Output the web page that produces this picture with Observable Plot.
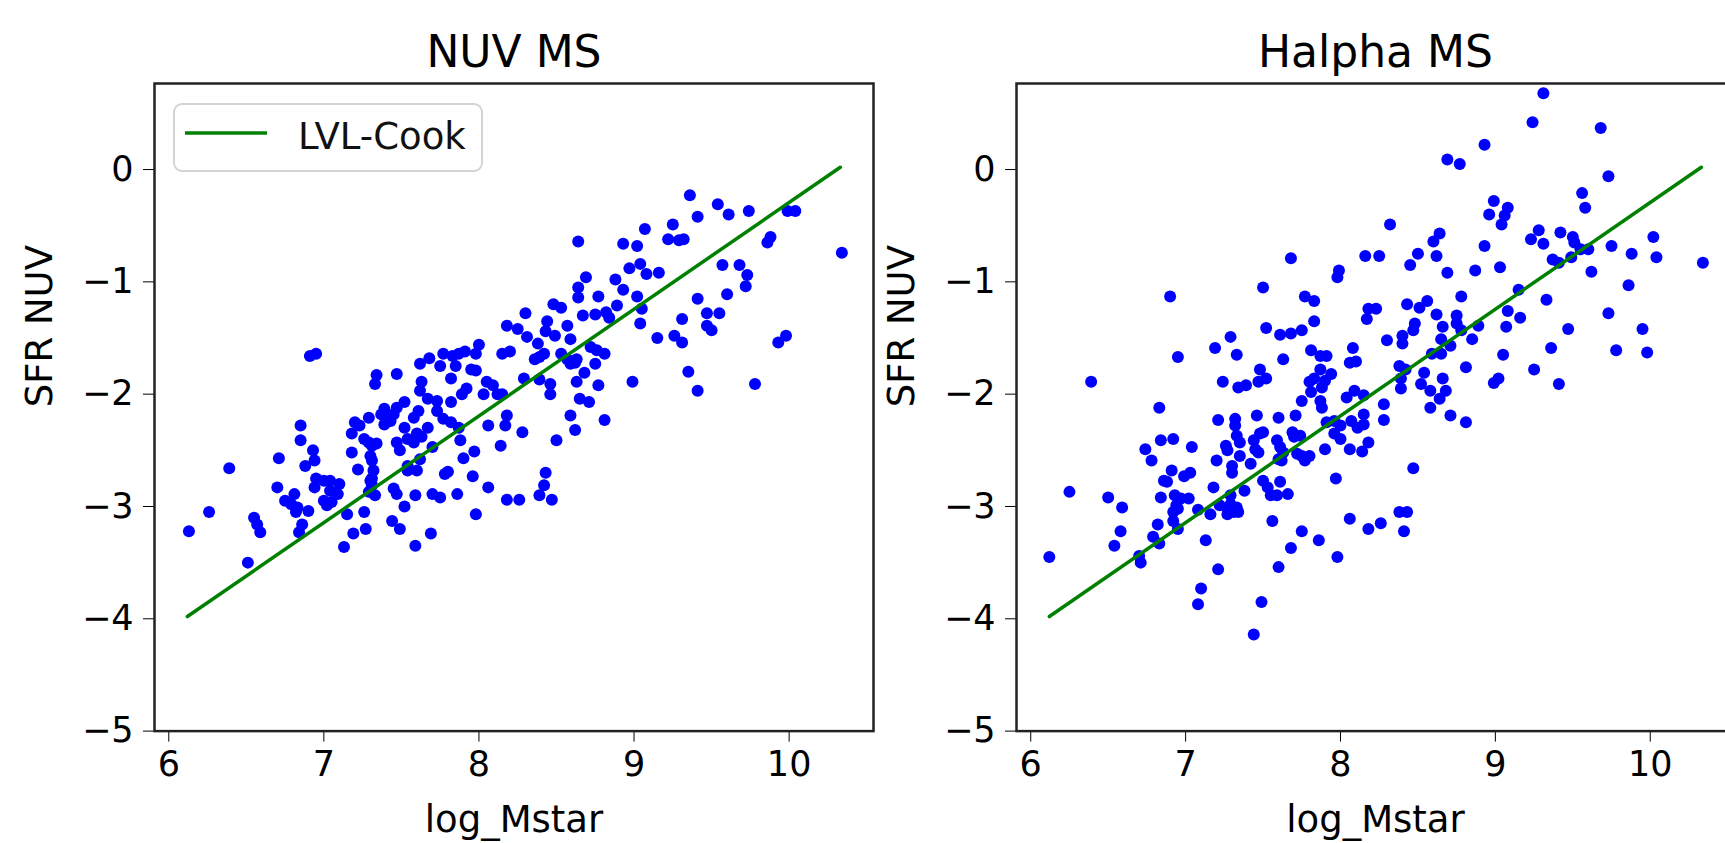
<!DOCTYPE html>
<html>
<head>
<meta charset="utf-8">
<script src="https://cdn.jsdelivr.net/npm/d3@7"></script>
<script src="https://cdn.jsdelivr.net/npm/@observablehq/plot@0.6"></script>
<style>
html, body { margin: 0; padding: 0; background: #fff; }
body { width: 1725px; height: 843px; overflow: hidden; position: relative; font-family: "DejaVu Sans", sans-serif; }
.panel { position: absolute; top: 0; height: 843px; }
.panel svg { max-width: none !important; }
.legend { position: absolute; left: 173px; top: 103px; width: 310px; height: 69px; box-sizing: border-box;
  border: 2px solid #d4d4d4; border-radius: 9px; background: rgba(255,255,255,0.85); z-index: 5; }
.legend svg { position: absolute; left: 0; top: 0; }
.legend span { position: absolute; left: 123px; top: 31px; transform: translateY(-50%); font-size: 37px; color: #111; line-height: 1; white-space: nowrap; }
</style>
</head>
<body>
<div id="left" class="panel" style="left:0px;width:945px"></div>
<div id="right" class="panel" style="left:862px;width:1000px"></div>
<div class="legend" id="legend"></div>
<script>
// ---- axes / labels ----
const panelTitles = ["NUV MS", "Halpha MS"];
const xLabel = "log_Mstar";
const yLabel = "SFR NUV";
const legendLabel = "LVL-Cook";
const xTicks = [6, 7, 8, 9, 10];
const yTicks = [-5, -4, -3, -2, -1, 0];
const xDomain = [5.908, 10.544];
const yDomain = [-5, 0.766];

// ---- LVL-Cook relation (endpoints) ----
const fitX = [6.12, 10.33];
const fitY = [-3.98, 0.02];

// ---- NUV MS panel ----
const nuvX = [
6.91,6.95,8.30,8.18,8.25,8.31,8.00,8.15,8.20,7.77,7.83,7.87,7.91,7.98,7.62,7.68,7.75,7.85,7.98,7.95,
7.82,7.34,7.33,7.47,7.63,7.62,8.05,8.09,8.12,8.15,7.92,7.89,8.29,8.03,7.52,7.47,7.39,7.67,7.73,7.82,
7.29,7.20,7.23,7.37,7.41,7.45,7.39,7.43,7.52,7.58,7.61,7.73,7.77,7.82,7.87,8.18,8.06,8.17,8.28,8.14,
7.18,7.26,7.29,7.31,7.34,7.47,7.49,7.54,7.58,7.60,7.63,7.67,7.88,7.70,7.18,7.30,7.31,7.22,7.32,7.31,
7.31,7.54,7.54,7.60,7.62,7.78,7.80,7.90,7.97,7.96,8.06,8.18,8.26,7.98,7.69,7.59,7.70,7.75,7.86,7.59,
7.52,7.45,7.47,7.44,7.49,7.26,7.19,7.27,7.15,7.13,7.33,7.29,7.30,6.95,7.00,7.04,7.10,6.94,7.04,7.09,
7.00,7.05,7.02,6.88,6.94,6.93,6.85,6.85,6.71,6.70,6.75,6.81,6.79,6.83,6.82,6.90,6.86,6.84,6.39,6.26,
6.13,6.55,6.57,6.59,6.51,
8.59,8.62,8.81,8.50,8.43,8.42,8.39,8.47,
9.36,9.41,9.54,9.61,9.74,9.99,10.04,10.34,9.86,9.88,9.57,9.68,9.73,9.72,9.60,9.41,9.93,9.98,9.78,9.41,
9.35,9.47,9.55,9.47,9.50,9.31,9.15,9.26,9.31,9.25,9.22,9.29,9.32,9.07,8.93,9.02,8.64,8.97,9.04,9.08,
9.16,8.69,8.88,8.64,8.64,8.93,8.77,9.02,9.05,8.89,8.48,8.53,8.67,8.75,8.82,8.84,9.04,8.44,8.43,8.49,
8.57,8.59,8.38,8.39,8.42,8.36,8.53,8.57,8.59,8.62,8.63,8.72,8.76,8.81,8.68,8.75,8.39,8.46,8.46,8.63,
8.77,8.99,8.65,8.71
];
const nuvY = [
-1.66,-1.64,-1.28,-1.39,-1.42,-1.49,-1.56,-1.64,-1.62,-1.64,-1.66,-1.64,-1.62,-1.64,-1.73,-1.68,-1.75,-1.75,-1.79,-1.78,
-1.86,-1.83,-1.91,-1.82,-1.89,-1.97,-1.89,-1.92,-2.00,-2.00,-1.95,-2.00,-1.86,-2.00,-2.07,-2.12,-2.13,-2.04,-2.06,-2.07,
-2.21,-2.25,-2.28,-2.18,-2.18,-2.18,-2.27,-2.24,-2.30,-2.21,-2.15,-2.15,-2.22,-2.25,-2.30,-2.19,-2.28,-2.28,-2.34,-2.46,
-2.35,-2.40,-2.43,-2.46,-2.44,-2.43,-2.50,-2.40,-2.43,-2.35,-2.38,-2.30,-2.41,-2.47,-2.52,-2.55,-2.59,-2.67,-2.68,-2.75,
-2.81,-2.64,-2.68,-2.68,-2.58,-2.71,-2.69,-2.57,-2.51,-2.73,-2.83,-2.94,-2.94,-3.07,-3.24,-3.35,-2.89,-2.92,-2.89,-2.90,
-3.00,-2.84,-2.89,-3.13,-3.20,-3.05,-3.24,-3.20,-3.07,-3.36,-2.90,-2.87,-2.77,-2.75,-2.77,-2.77,-2.80,-2.83,-2.86,-2.89,
-2.95,-2.96,-2.99,-2.64,-2.59,-2.50,-2.28,-2.41,-2.57,-2.83,-2.95,-2.89,-2.98,-3.01,-3.05,-3.04,-3.16,-3.23,-2.66,-3.05,
-3.22,-3.10,-3.16,-3.23,-3.50,
-2.19,-2.32,-2.23,-2.41,-2.70,-2.81,-2.90,-2.94,
-0.23,-0.42,-0.31,-0.40,-0.37,-0.37,-0.37,-0.74,-0.65,-0.60,-0.85,-0.85,-0.94,-1.04,-1.11,-1.15,-1.54,-1.48,-1.91,-1.97,
-1.80,-1.28,-1.28,-1.39,-1.43,-1.33,-1.50,-1.48,-1.54,-0.49,-0.62,-0.63,-0.62,-0.53,-0.66,-0.68,-0.64,-0.88,-0.84,-0.93,
-0.92,-0.96,-0.98,-1.05,-1.14,-1.07,-1.13,-1.13,-1.24,-1.21,-1.20,-1.23,-1.30,-1.29,-1.27,-1.32,-1.37,-1.35,-1.44,-1.48,
-1.39,-1.51,-1.55,-1.67,-1.64,-1.69,-1.64,-1.69,-1.73,-1.72,-1.69,-1.58,-1.61,-1.64,-1.81,-1.73,-1.87,-1.91,-2.00,-1.89,
-1.92,-1.89,-2.04,-2.07
];

// ---- Halpha MS panel ----
const haX = [
7.68,8.16,7.99,7.98,6.90,7.50,7.77,7.83,8.18,8.17,7.83,7.52,7.61,7.68,7.75,7.29,7.19,6.95,7.33,7.63,
7.81,7.87,7.91,8.08,8.06,8.10,7.48,7.52,7.47,7.87,7.94,7.83,7.90,7.80,7.88,7.24,7.34,7.39,6.39,7.81,
7.75,7.87,7.88,8.09,8.04,8.15,6.83,
7.21,7.32,7.32,7.46,7.60,7.71,7.69,7.74,7.70,7.50,7.48,7.33,7.35,7.26,7.27,7.44,7.45,7.47,7.35,7.20,
7.30,7.30,7.42,7.59,7.61,7.63,7.60,7.62,7.72,7.75,7.80,7.77,7.90,7.91,7.96,8.00,7.96,8.00,8.07,8.11,
8.15,8.15,8.06,8.14,8.18,7.97,8.06,8.18,7.98,7.86,7.75,7.68,7.56,7.60,7.49,7.44,7.21,7.10,7.08,7.13,
7.16,7.08,7.18,7.38,7.22,7.27,7.29,7.33,7.31,7.27,7.34,7.29,7.50,7.53,7.55,7.59,7.61,7.66,7.03,6.99,
6.91,6.86,6.88,6.93,6.97,7.02,6.94,6.92,6.95,6.84,6.92,6.95,6.82,6.79,6.83,7.04,6.74,6.78,6.84,6.92,
6.59,6.50,6.58,6.54,6.70,6.71,6.25,6.12,
9.31,9.24,9.68,8.93,8.69,8.77,9.73,9.56,9.58,8.99,9.08,8.96,9.06,9.04,8.32,9.28,9.23,9.31,9.42,9.50,
9.51,10.02,10.04,9.75,9.88,10.34,9.55,9.60,9.49,9.37,9.41,9.62,9.86,9.33,9.15,8.64,8.60,8.50,8.45,8.62,
8.69,8.93,8.87,9.03,8.25,8.78,8.43,8.51,8.56,8.23,8.62,8.75,8.75,8.78,8.66,8.65,8.71,8.48,8.47,8.40,
8.40,8.30,8.89,8.85,9.08,9.16,9.07,9.05,9.47,9.73,9.95,9.98,9.78,9.36,9.25,9.41,8.99,9.02,8.81,8.59,
8.65,8.54,8.52,8.66,8.68,8.39,8.38,8.42,8.39,8.58,8.64,8.28,8.58,
8.28,8.71,8.81,8.47,8.38,8.43,8.26,8.41
];
const haY = [
-0.79,-0.77,-0.90,-0.96,-1.13,-1.05,-1.13,-1.17,-1.24,-1.33,-1.35,-1.41,-1.47,-1.46,-1.43,-1.49,-1.59,-1.67,-1.65,-1.69,
-1.61,-1.66,-1.66,-1.59,-1.72,-1.71,-1.78,-1.86,-1.89,-1.78,-1.82,-1.86,-1.88,-1.89,-1.94,-1.89,-1.94,-1.92,-1.89,-1.98,
-2.06,-2.06,-2.12,-1.97,-2.03,-2.01,-2.12,
-2.23,-2.22,-2.28,-2.19,-2.21,-2.19,-2.34,-2.37,-2.38,-2.34,-2.35,-2.37,-2.43,-2.46,-2.50,-2.41,-2.49,-2.52,-2.55,-2.59,
-2.64,-2.70,-2.62,-2.41,-2.47,-2.52,-2.58,-2.59,-2.53,-2.55,-2.55,-2.59,-2.49,-2.25,-2.24,-2.28,-2.35,-2.40,-2.24,-2.30,
-2.18,-2.27,-2.49,-2.51,-2.43,-2.75,-3.11,-3.20,-3.45,-3.30,-3.22,-3.37,-3.13,-3.54,-3.85,-4.14,-3.56,-3.73,-3.87,-3.30,
-3.07,-3.03,-2.83,-2.86,-2.99,-3.02,-2.98,-3.01,-3.05,-3.07,-3.05,-2.90,-2.77,-2.83,-2.90,-2.90,-2.78,-2.89,-2.70,-2.73,
-2.68,-2.77,-2.78,-2.90,-2.93,-2.93,-2.99,-3.05,-3.02,-2.92,-3.13,-3.20,-3.16,-3.27,-3.33,-2.47,-2.49,-2.59,-2.41,-2.40,
-3.01,-2.92,-3.22,-3.35,-3.44,-3.50,-2.87,-3.45,
0.68,0.42,0.37,0.22,0.09,0.05,-0.06,-0.21,-0.34,-0.28,-0.34,-0.40,-0.41,-0.49,-0.49,-0.54,-0.62,-0.66,-0.56,-0.60,
-0.65,-0.60,-0.78,-0.68,-0.75,-0.83,-0.71,-0.71,-0.78,-0.80,-0.83,-0.91,-1.03,-1.16,-1.07,-0.57,-0.64,-0.75,-0.85,-0.77,
-0.92,-0.68,-0.90,-0.87,-0.77,-1.13,-1.20,-1.23,-1.17,-1.24,-1.29,-1.30,-1.37,-1.43,-1.40,-1.51,-1.57,-1.37,-1.43,-1.48,
-1.55,-1.52,-1.39,-1.51,-1.26,-1.32,-1.40,-1.65,-1.42,-1.28,-1.42,-1.63,-1.61,-1.59,-1.78,-1.91,-1.90,-1.86,-1.76,-1.64,
-1.64,-1.81,-1.91,-1.86,-1.97,-1.86,-1.75,-1.78,-1.95,-1.97,-2.04,-2.09,-2.12,
-2.23,-2.19,-2.25,-2.66,-3.05,-3.05,-3.15,-3.22
];

const FONT = "DejaVu Sans";

function panel(title, xs, ys, width, marginRight) {
  const pts = xs.map((x, i) => ({x, y: ys[i]}));
  const fit = fitX.map((x, i) => ({x, y: fitY[i]}));
  const svg = Plot.plot({
    width, height: 843,
    marginLeft: 154, marginRight, marginTop: 83, marginBottom: 843 - 730.6,
    x: {domain: xDomain, ticks: xTicks, tickSize: 11, tickPadding: 9, label: null, tickFormat: d3.format("d")},
    y: {domain: yDomain, ticks: yTicks, tickSize: 11, tickPadding: 10, label: null, tickFormat: d3.format("d")},
    style: {fontFamily: FONT, fontSize: "35px", color: "#000", background: "transparent", overflow: "visible", maxWidth: "none"},
    marks: [
      Plot.dot(pts, {x: "x", y: "y", r: 6, fill: "#0000ff", stroke: "none"}),
      Plot.line(fit, {x: "x", y: "y", stroke: "#008000", strokeWidth: 3.5}),
      Plot.frame({stroke: "#222", strokeWidth: 2.5}),
      Plot.text([title], {text: d => d, frameAnchor: "top", dy: -31, fontSize: 44, lineAnchor: "middle", fill: "#000"}),
      Plot.text([xLabel], {text: d => d, frameAnchor: "bottom", dy: 89, fontSize: 37, lineAnchor: "middle", fill: "#000"}),
      Plot.text([yLabel], {text: d => d, frameAnchor: "left", dx: -114, rotate: -90, fontSize: 37, lineAnchor: "middle", fill: "#000"})
    ]
  });
  svg.style.maxWidth = "none";
  svg.setAttribute("width", width);
  svg.style.width = width + "px";
  return svg;
}

document.getElementById("left").appendChild(panel(panelTitles[0], nuvX, nuvY, 945, 72));
document.getElementById("right").appendChild(panel(panelTitles[1], haX, haY, 1000, 128));

// legend (matplotlib-style box)
const lg = document.getElementById("legend");
lg.innerHTML = `<svg width="310" height="69"><line x1="10" x2="92" y1="28" y2="28" stroke="#008000" stroke-width="3.5"/></svg><span>${legendLabel}</span>`;
</script>
</body>
</html>
